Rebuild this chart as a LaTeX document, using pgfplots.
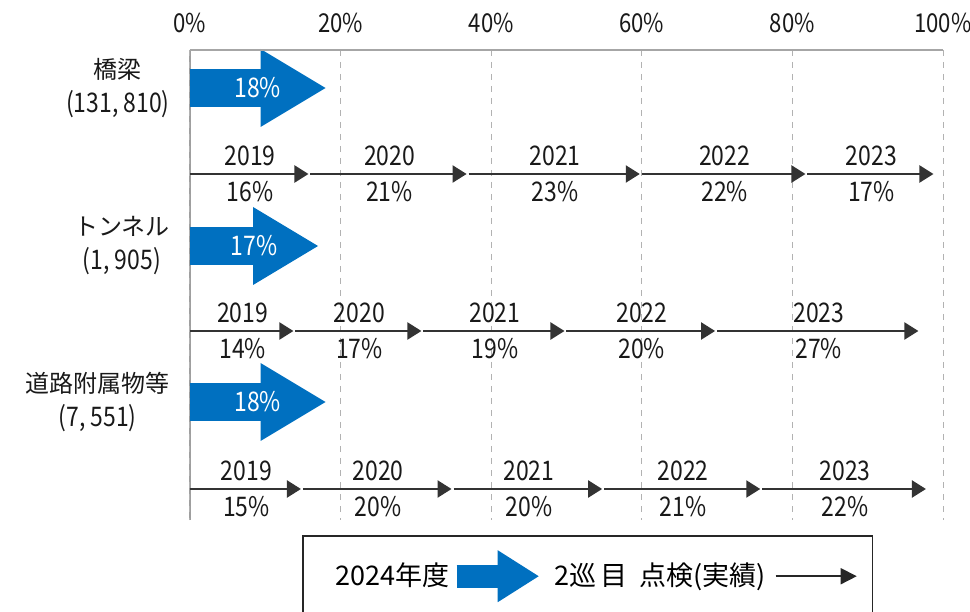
\documentclass[12pt,border=0pt]{standalone}
\usepackage{fontspec}
\setmainfont{Noto Sans CJK JP}
\newfontfamily\numfont[FakeStretch=0.85]{Noto Sans CJK JP}
\newcommand\nf{\numfont\fontsize{13.5}{16}\selectfont}
\newcommand\tf{\numfont\fontsize{13}{15}\selectfont}
\usepackage{pgfplots}
\pgfplotsset{compat=1.18}
\usepackage{pgfplotstable}
\usetikzlibrary{arrows.meta}

\definecolor{mlitblue}{HTML}{0070C0}

% 2024 inspections (share of facilities); row = vertical position (negative, top to bottom)
\pgfplotstableread{
row val
-88  18
-246 17
-402 18
}\secondround

% 2nd-round inspections 2019-2023: start = cumulative share before the year
\pgfplotstableread{
row start pct year
-174 0  16 2019
-174 16 21 2020
-174 37 23 2021
-174 60 22 2022
-174 82 17 2023
-331 0  14 2019
-331 14 17 2020
-331 31 19 2021
-331 50 20 2022
-331 70 27 2023
-489 0  15 2019
-489 15 20 2020
-489 35 20 2021
-489 55 21 2022
-489 76 22 2023
}\firstround

% percentage scale along the top edge
\pgfplotstableread{
x y
0   -50
20  -50
40  -50
60  -50
80  -50
100 -50
}\scaleticks

\begin{document}
\begin{tikzpicture}
\begin{axis}[
  scale only axis, width=376.5pt, height=235pt,
  xmin=0, xmax=100, ymin=-520, ymax=-50,
  axis x line=none, axis y line*=left,
  axis line style={gray!75, line width=0.6pt, -},
  ytick={-402,-246,-88},
  yticklabels={{道路附属物等\\{\nf (7, 551)}},{トンネル\\{\nf (1, 905)}},{橋梁\\{\nf (131, 810)}}},
  tick label style={font=\fontsize{12}{17}\selectfont, text=black!90},
  yticklabel style={align=center, xshift=-6pt},
  major tick length=0pt,
  clip=false,
  /pgf/number format/assume math mode=true,
  legend plot pos=right, legend columns=2,
  legend style={at={(0.1487,-0.0328)}, anchor=north west,
    draw=black!85, line width=0.8pt, font=\fontsize{13.5}{15}\selectfont,
    inner xsep=6.5pt, inner ysep=7pt, column sep=4.75pt,
    nodes={inner xsep=0pt},
    /tikz/column 1/.append style={column sep=-2.25pt},
    /tikz/column 2/.append style={column sep=2pt}},
]
% dashed verticals at each 20 % and the scale labels
\addplot[forget plot, quiver={u=0, v=-470}, dashed, gray!60, line width=0.5pt]
  table[x=x, y=y] {\scaleticks};
\addplot[forget plot, draw=none, nodes near coords={\pgfmathprintnumber{\pgfplotspointmeta}\%},
  point meta=x,
  every node near coord/.style={anchor=center, yshift=13.5pt, text=black!90, font=\tf}]
  table[x=x, y=y] {\scaleticks};

\addplot[quiver={u=\thisrow{val}, v=0}, draw=mlitblue, line width=19pt,
  -{Triangle[length=32.5pt, width=39pt, line width=0pt]},
  legend image code/.code={\draw[mlitblue, line width=11.5pt,
    -{Triangle[length=20.5pt, width=26pt, line width=0pt]}] (0pt,0pt) -- (41pt,0pt);}]
  table[x expr=0, y=row] {\secondround};
\addlegendentry{\hspace*{10pt}2024年度}

\addplot[quiver={u=\thisrow{pct}, v=0}, draw=black!80, line width=1.1pt,
  -{Triangle[length=7pt, width=8.5pt]}, shorten >=1pt,
  legend image code/.code={\draw[black!85, line width=0.8pt,
    -{Triangle[length=8pt, width=8pt]}] (0pt,0pt) -- (41.5pt,0pt);}]
  table[x=start, y=row] {\firstround};
\addlegendentry{2巡\hspace{2pt}目\hspace{6pt}点検(実績)}

% white labels on the blue arrows
\addplot[draw=none, forget plot, nodes near coords={\pgfmathprintnumber{\pgfplotspointmeta}\%},
  point meta=\thisrow{val},
  every node near coord/.style={anchor=center, text=white, font=\nf}]
  table[x expr=\thisrow{val}/2, y=row] {\secondround};

% year above each arrow
\addplot[draw=none, forget plot, nodes near coords, point meta=explicit symbolic,
  every node near coord/.style={anchor=center, yshift=9pt, text=black!90, font=\nf}]
  table[x expr=\thisrow{start}+\thisrow{pct}/2, y=row, meta=year] {\firstround};

% share below each arrow
\addplot[draw=none, forget plot, nodes near coords={\pgfplotspointmeta\%}, point meta=explicit symbolic,
  every node near coord/.style={anchor=center, yshift=-9pt, text=black!90, font=\nf}]
  table[x expr=\thisrow{start}+\thisrow{pct}/2, y=row, meta=pct] {\firstround};

% top edge of the frame
\addplot[forget plot, gray!70, line width=0.9pt] coordinates {(0,-50.6) (100,-50.6)};
\draw[gray!70, line width=0.9pt] (rel axis cs:0,1) -- (rel axis cs:1,1);

\coordinate (bbsw) at (axis cs:-25.232,-611);
\coordinate (bbne) at (axis cs:103.586,0);
\end{axis}
\pgfresetboundingbox
\useasboundingbox (bbsw) rectangle (bbne);
\end{tikzpicture}
\end{document}
